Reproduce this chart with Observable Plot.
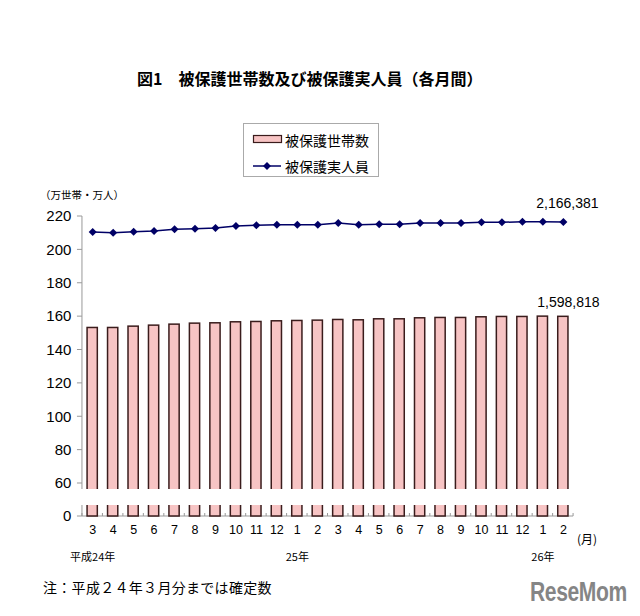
<!DOCTYPE html>
<html><head><meta charset="utf-8">
<script src="https://cdn.jsdelivr.net/npm/d3@7"></script>
<script src="https://cdn.jsdelivr.net/npm/@observablehq/plot@0.6"></script>
<style>
body{margin:0;background:#fff;}
#wrap{position:relative;width:640px;height:616px;overflow:hidden;font-family:"Noto Sans CJK JP","Noto Sans",sans-serif;color:#000;background:#fff;}
.abs{position:absolute;white-space:nowrap;line-height:1;}
#chart{position:absolute;left:0;top:0;}
</style></head><body>
<div id="wrap">
  <div id="chart"></div>
  <div class="abs" style="left:137px;top:70px;font-size:16px;font-weight:bold;">図1　被保護世帯数及び被保護実人員（各月間）</div>
  <div class="abs" style="left:243px;top:123px;width:136px;height:54px;border:1px solid #aaa;box-sizing:border-box;"></div>
  <svg class="abs" style="left:250px;top:130px" width="34" height="44">
    <rect x="3.5" y="5.5" width="28" height="7" fill="#f7c4c4" stroke="#3a1c1c" stroke-width="1.2"/>
    <line x1="3" x2="31" y1="36" y2="36" stroke="#000066" stroke-width="1.5"/>
    <rect x="14.2" y="33.2" width="5.6" height="5.6" fill="#000066" transform="rotate(45 17 36)"/>
  </svg>
  <div class="abs" style="left:285px;top:133px;font-size:14px;">被保護世帯数</div>
  <div class="abs" style="left:285px;top:159px;font-size:14px;">被保護実人員</div>
  <div class="abs" style="left:40px;top:190px;font-size:10.5px;">（万世帯・万人）</div>
  <div class="abs" style="left:577px;top:533px;font-size:12px;">(月)</div>
  <div class="abs" style="left:43px;top:580px;font-size:14px;letter-spacing:0.3px;">注：平成２４年３月分までは確定数</div>
  <div class="abs" style="left:530px;top:579px;font-size:27px;font-weight:bold;color:#858585;font-family:'Liberation Sans',Arial,sans-serif;transform:scaleX(0.78);transform-origin:left top;letter-spacing:-0.5px;">ReseMom</div>
</div>
<script>
const months = ["3","4","5","6","7","8","9","10","11","12","1","2","3","4","5","6","7","8","9","10","11","12","1","2"];
const households = [153.2,153.2,154.0,154.6,155.2,155.8,156.0,156.6,156.8,157.2,157.4,157.6,158.0,157.8,158.4,158.4,159.0,159.2,159.2,159.6,159.8,159.8,160.0,159.88];
const persons = [210.7,210.3,210.9,211.3,212.3,212.7,213.1,214.3,214.7,215.1,215.1,215.1,216.1,215.1,215.3,215.3,216.1,216.1,216.1,216.5,216.5,216.9,216.9,216.64];
const yTicks = [0,60,80,100,120,140,160,180,200,220];
const yearStart = [0,10,22];
const yearText = ["平成24年","25年","26年"];
const latestHouseholds = 1598818;
const latestPersons = 2166381;

const idx = d3.range(months.length);
const data = idx.map(i => ({i, households: households[i], persons: persons[i]}));
const last = [data[data.length - 1]];
const fmt = d3.format(",");

// plot-area edges derived from the band scale (bars sit in the middle half of each band)
function edges(x) {
  const step = x(1) - x(0);
  const left = x(0) - step * 0.25;
  return {step, left, right: left + step * months.length};
}

const axisLines = (index, scales) => {
  const x = scales.x, y = scales.y;
  const {step, left, right} = edges(x);
  const y0 = y(0);
  const g = d3.create("svg:g").attr("stroke", "#999").attr("fill", "none");
  g.append("line").attr("x1", left).attr("x2", left).attr("y1", y(220)).attr("y2", y0);
  g.append("line").attr("x1", left).attr("x2", right).attr("y1", y0).attr("y2", y0);
  for (const t of yTicks) {
    g.append("line").attr("x1", left - 5).attr("x2", left).attr("y1", y(t)).attr("y2", y(t));
  }
  for (let k = 0; k <= months.length; k++) {
    const bx = left + k * step;
    g.append("line").attr("x1", bx).attr("x2", bx).attr("y1", y0 - 3).attr("y2", y0);
  }
  return g.node();
};

const breakBand = (index, scales) => {
  const x = scales.x, y = scales.y;
  const {left, right} = edges(x);
  const top = y(60) + 6, bottom = y(0) - 11;
  return d3.create("svg:rect")
    .attr("x", left - 2).attr("width", right - left + 6)
    .attr("y", top).attr("height", bottom - top)
    .attr("fill", "#fff").node();
};

const chart = Plot.plot({
  width: 640, height: 616,
  marginLeft: 76.85, marginRight: 61.8, marginTop: 216, marginBottom: 100,
  style: {fontFamily: "'Liberation Sans', Arial, sans-serif", background: "transparent", color: "#000", overflow: "visible"},
  x: {type: "band", domain: idx, padding: 0.5, round: false, label: null},
  y: {type: "linear", domain: [0, 60, 220], range: [516, 483, 216], label: null},
  marks: [
    axisLines,
    Plot.barY(data, {x: "i", y: "households", fill: "#f7c4c4", stroke: "#3a1c1c", strokeWidth: 1.5}),
    breakBand,
    Plot.axisY({ticks: yTicks, tickSize: 0, tickPadding: 6, fontSize: 15, fill: "#000", label: null}),
    Plot.axisX({tickSize: 0, tickPadding: 9, fontSize: 12.5, tickFormat: i => months[i], fill: "#000", label: null}),
    Plot.line(data, {x: "i", y: "persons", stroke: "#000066", strokeWidth: 1.5}),
    Plot.dot(data, {x: "i", y: "persons", symbol: "square", r: 3.2, rotate: 45, fill: "#000066", stroke: "none"}),
    Plot.text(last, {x: "i", y: "persons", text: () => fmt(latestPersons), dy: -19, dx: 4, fontSize: 14}),
    Plot.text(last, {x: "i", y: "households", text: () => fmt(latestHouseholds), dy: -14, dx: 5, fontSize: 14}),
    Plot.text(yearStart, {x: d => d, y: 0, text: (d, k) => yearText[k], dy: 41, fontSize: 11, fontFamily: "'Noto Sans CJK JP', sans-serif"})
  ]
});
document.getElementById("chart").appendChild(chart);
</script>
</body></html>
